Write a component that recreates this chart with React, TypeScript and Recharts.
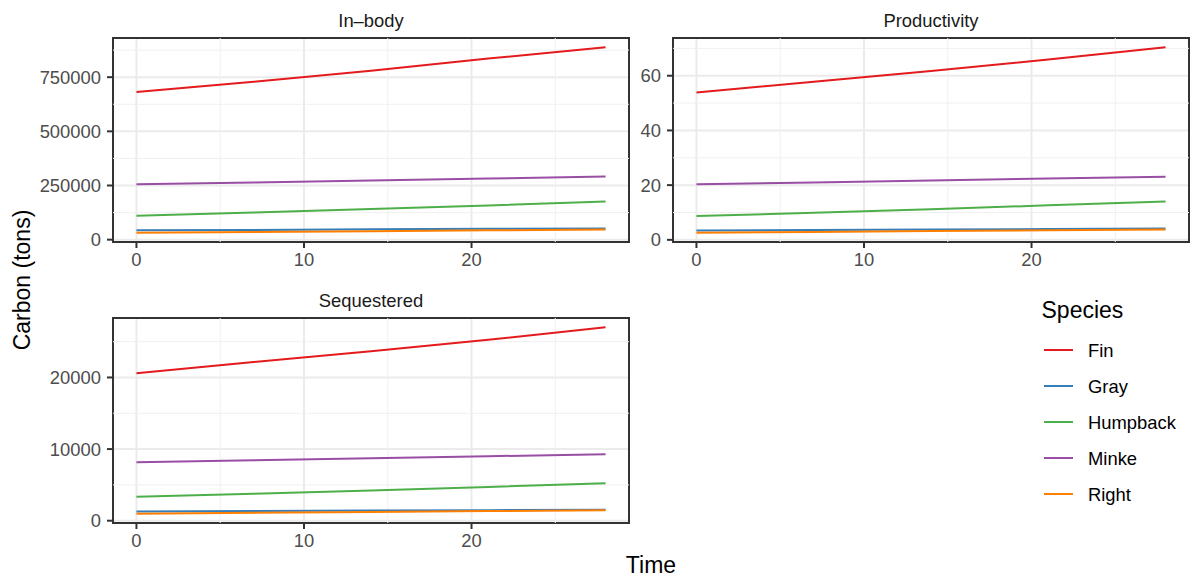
import React from "react";
import {
  LineChart,
  Line,
  XAxis,
  YAxis,
  CartesianGrid,
  ReferenceLine,
  ReferenceArea,
} from "recharts";

// sampled years
const times = [0, 7, 14, 21, 28];
const species = ["Fin", "Gray", "Humpback", "Minke", "Right"];

// In-body carbon (tons)
const inBodyFin = [681000, 729000, 780000, 836000, 888000];
const inBodyGray = [43000, 45000, 47500, 50000, 52000];
const inBodyHumpback = [110000, 125000, 141000, 158000, 176000];
const inBodyMinke = [256000, 264000, 273000, 282000, 291000];
const inBodyRight = [32000, 35500, 39000, 43000, 47000];

// Productivity
const prodFin = [53.9, 57.8, 61.7, 65.9, 70.4];
const prodGray = [3.4, 3.6, 3.8, 3.95, 4.1];
const prodHumpback = [8.7, 9.9, 11.2, 12.6, 14.0];
const prodMinke = [20.3, 21.0, 21.7, 22.4, 23.1];
const prodRight = [2.6, 2.9, 3.2, 3.5, 3.8];

// Sequestered
const seqFin = [20600, 22150, 23650, 25250, 27000];
const seqGray = [1300, 1360, 1420, 1475, 1530];
const seqHumpback = [3340, 3770, 4220, 4710, 5240];
const seqMinke = [8170, 8440, 8720, 9000, 9280];
const seqRight = [980, 1100, 1220, 1340, 1460];

const xTicks = [0, 10, 20];
const xMinor = [5, 15, 25];
const inBodyTicks = [0, 250000, 500000, 750000];
const inBodyMinor = [125000, 375000, 625000, 875000];
const prodTicks = [0, 20, 40, 60];
const prodMinor = [10, 30, 50, 70];
const seqTicks = [0, 10000, 20000];
const seqMinor = [5000, 15000, 25000];

const colors: Record<string, string> = {
  Fin: "#E41A1C",
  Gray: "#377EB8",
  Humpback: "#4DAF4A",
  Minke: "#984EA3",
  Right: "#FF7F00",
};

const font = '"Liberation Sans", Arial, Helvetica, sans-serif';
const small = 18.4;
const big = 23;

const buildRows = (series: number[][]) =>
  times.map((t, i) => {
    const row: Record<string, number> = { time: t };
    species.forEach((s, k) => {
      row[s] = series[k][i];
    });
    return row;
  });

// ggplot-style 5% expansion
const expand = (vals: number[]): [number, number] => {
  const lo = Math.min(...vals);
  const hi = Math.max(...vals);
  const pad = (hi - lo) * 0.05;
  return [lo - pad, hi + pad];
};

const xDomain = expand(times);

interface PanelProps {
  series: number[][];
  ticks: number[];
  minor: number[];
  left: number;
  top: number;
  width: number;
  height: number;
  marginRight: number;
}

const AXIS_W = 113;
const AXIS_H = 28;
const MARGIN_TOP = 38;

function Panel({ series, ticks, minor, left, top, width, height, marginRight }: PanelProps) {
  const data = buildRows(series);
  const yDomain = expand(series.flat());
  return (
    <div style={{ position: "absolute", left, top }}>
      <LineChart
        width={width}
        height={height}
        data={data}
        margin={{ top: MARGIN_TOP, right: marginRight, bottom: 0, left: 0 }}
      >
        <CartesianGrid stroke="#EBEBEB" strokeWidth={2} />
        {minor.map((v) => (
          <ReferenceLine key={"y" + v} y={v} stroke="#F0F0F0" strokeWidth={1} />
        ))}
        {xMinor.map((v) => (
          <ReferenceLine key={"x" + v} x={v} stroke="#F0F0F0" strokeWidth={1} />
        ))}
        <XAxis
          dataKey="time"
          type="number"
          domain={xDomain}
          ticks={xTicks}
          allowDataOverflow
          height={AXIS_H}
          axisLine={false}
          tickSize={6}
          tickMargin={5}
          tickLine={{ stroke: "#333333", strokeWidth: 2 }}
          tick={{ fill: "#4D4D4D", fontSize: small, fontFamily: font }}
        />
        <YAxis
          type="number"
          domain={yDomain}
          ticks={ticks}
          allowDataOverflow
          interval={0}
          width={AXIS_W}
          axisLine={false}
          tickSize={6}
          tickMargin={6}
          tickLine={{ stroke: "#333333", strokeWidth: 2 }}
          tick={{ fill: "#4D4D4D", fontSize: small, fontFamily: font }}
        />
        {species.map((s) => (
          <Line
            key={s}
            type="linear"
            dataKey={s}
            stroke={colors[s]}
            strokeWidth={2}
            dot={false}
            activeDot={false}
            isAnimationActive={false}
          />
        ))}
        <ReferenceArea
          x1={xDomain[0]}
          x2={xDomain[1]}
          y1={yDomain[0]}
          y2={yDomain[1]}
          fill="none"
          fillOpacity={0}
          stroke="#333333"
          strokeWidth={2}
          ifOverflow="visible"
        />
      </LineChart>
    </div>
  );
}

const panels = [
  { title: "In\u2013body", series: [inBodyFin, inBodyGray, inBodyHumpback, inBodyMinke, inBodyRight], ticks: inBodyTicks, minor: inBodyMinor, left: 0, top: 0, width: 640, height: 270, marginRight: 11 },
  { title: "Productivity", series: [prodFin, prodGray, prodHumpback, prodMinke, prodRight], ticks: prodTicks, minor: prodMinor, left: 560, top: 0, width: 634, height: 270, marginRight: 5 },
  { title: "Sequestered", series: [seqFin, seqGray, seqHumpback, seqMinke, seqRight], ticks: seqTicks, minor: seqMinor, left: 0, top: 280, width: 640, height: 271, marginRight: 11 },
];

export default function App() {
  return (
    <div style={{ position: "absolute", left: 0, top: 0, width: 1194, height: 580, background: "#fff", fontFamily: font }}>
      {panels.map((p) => (
        <Panel key={p.title} {...p} />
      ))}
      <svg width={1194} height={580} style={{ position: "absolute", left: 0, top: 0, pointerEvents: "none" }}>
        {panels.map((p) => {
          const x0 = p.left + AXIS_W;
          const x1 = p.left + p.width - p.marginRight;
          return (
            <text
              key={p.title}
              x={(x0 + x1) / 2}
              y={p.top + MARGIN_TOP - 11}
              textAnchor="middle"
              fontSize={small}
              fontFamily={font}
              fill="#1A1A1A"
            >
              {p.title}
            </text>
          );
        })}
        <text
          transform="translate(29.5,280) rotate(-90)"
          textAnchor="middle"
          fontSize={big}
          fontFamily={font}
          fill="#000"
        >
          Carbon (tons)
        </text>
        <text x={651} y={572.5} textAnchor="middle" fontSize={big} fontFamily={font} fill="#000">
          Time
        </text>
        <text x={1041.5} y={318.3} fontSize={big} fontFamily={font} fill="#000">
          Species
        </text>
        {species.map((s, i) => (
          <g key={s}>
            <line x1={1044} x2={1073} y1={350 + i * 36} y2={350 + i * 36} stroke={colors[s]} strokeWidth={2} />
            <text x={1088} y={350 + i * 36} dy="0.36em" fontSize={small} fontFamily={font} fill="#000">
              {s}
            </text>
          </g>
        ))}
      </svg>
    </div>
  );
}
